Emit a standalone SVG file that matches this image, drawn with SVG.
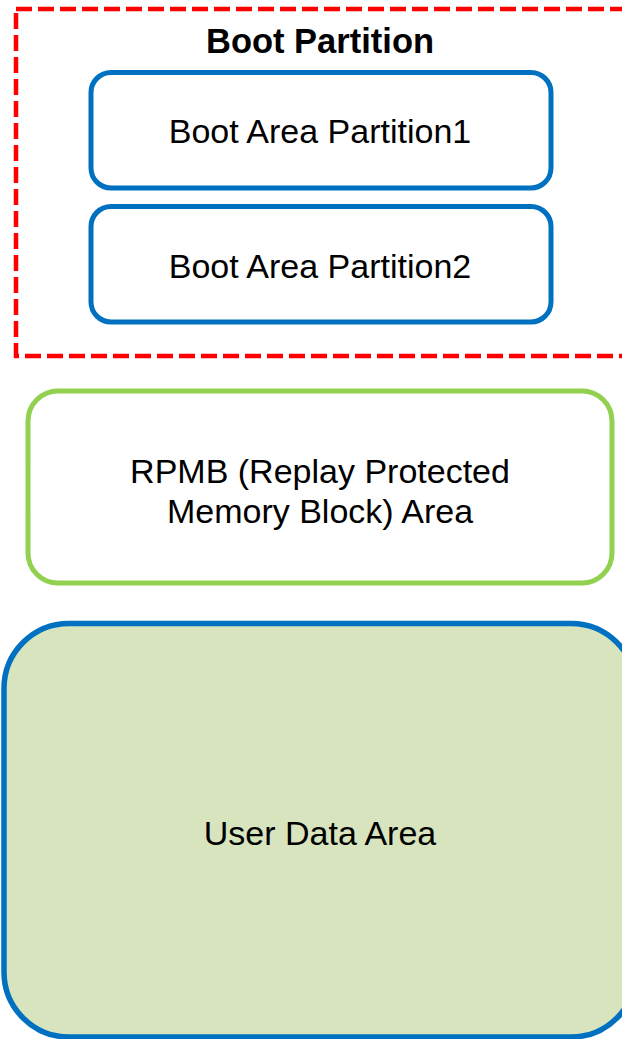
<svg xmlns="http://www.w3.org/2000/svg" width="622" height="1039" viewBox="0 0 622 1039">
  <style>
    .lbl { font-family: "Liberation Sans", Arial, sans-serif; font-size: 34px; fill: #000; text-anchor: middle; }
    .bold { font-weight: bold; font-size: 34.5px; }
    .boot { fill: #fff; stroke: #0070C0; stroke-width: 5; }
    .rpmb { fill: #fff; stroke: #92D050; stroke-width: 5; }
    .user { fill: #D7E4BD; stroke: #0070C0; stroke-width: 5.5; }
    .group { fill: none; stroke: #FF0000; stroke-width: 4.5; stroke-dasharray: 16 6; }
  </style>
  <rect width="622" height="1039" fill="#fff"/>

  <!-- Boot partition container -->
  <g id="boot-partition">
    <rect class="group" x="16" y="9" width="620" height="347"/>
    <text class="lbl bold" x="320" y="53">Boot Partition</text>
  </g>

  <g id="boot-area-1">
    <rect class="boot" x="91" y="72.5" width="460" height="115.5" rx="20"/>
    <text class="lbl" x="320" y="143">Boot Area Partition1</text>
  </g>

  <g id="boot-area-2">
    <rect class="boot" x="91" y="206.5" width="460" height="115.5" rx="20"/>
    <text class="lbl" x="320" y="278">Boot Area Partition2</text>
  </g>

  <g id="rpmb">
    <rect class="rpmb" x="28" y="391" width="584" height="192" rx="30"/>
    <text class="lbl" x="320" y="483">RPMB (Replay Protected</text>
    <text class="lbl" x="320" y="523">Memory Block) Area</text>
  </g>

  <g id="user-data">
    <rect class="user" x="4" y="623.5" width="632" height="413.5" rx="65"/>
    <text class="lbl" x="320" y="845">User Data Area</text>
  </g>

  <g id="connectors"/>
</svg>
